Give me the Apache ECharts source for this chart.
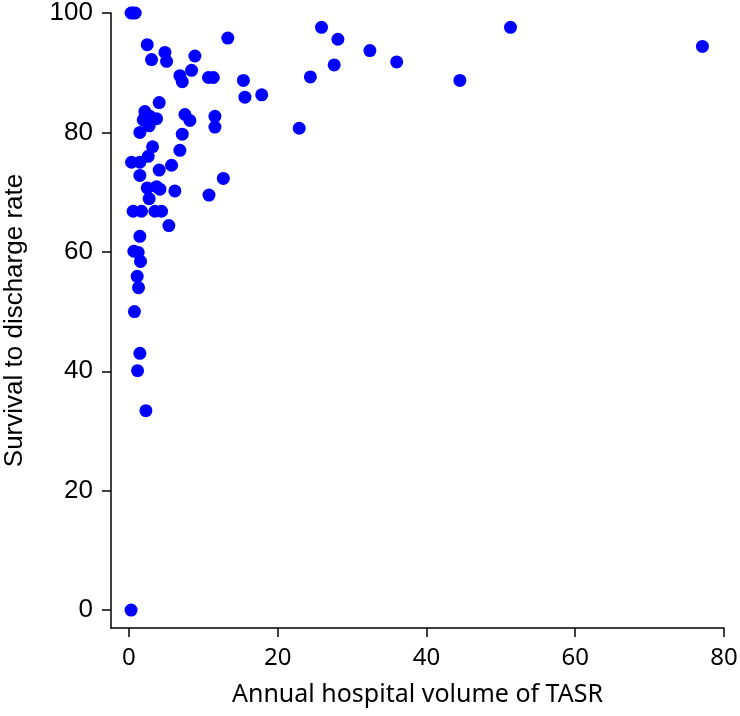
<!DOCTYPE html>
<html>
<head>
<meta charset="utf-8">
<script src="https://cdn.jsdelivr.net/npm/echarts@6/dist/echarts.min.js"></script>
<style>html,body{margin:0;padding:0;background:#fff}#c{width:740px;height:716px}</style>
</head>
<body>
<div id="c"></div>
<script>
// Annual hospital volume of TASR (x) and survival to discharge rate (y)
const volume = [0.3,0.55,0.85,0.3,
  2.47,13.3,4.85,5.07,3.05,8.88,8.43,6.86,7.18,10.7,11.35,15.4,15.6,4.08,11.57,11.57,
  7.54,8.21,2.15,1.93,2.83,3.72,1.48,2.73,7.18,3.19,6.86,0.36,1.48,2.6,4.08,5.74,1.48,
  12.7,2.47,3.72,4.17,6.19,10.77,2.73,0.58,1.7,3.5,4.4,5.38,1.48,0.67,1.25,1.57,1.12,
  1.3,0.75,1.48,1.17,2.29,
  25.9,28.1,32.4,36.0,27.6,17.86,24.4,22.9,51.3,77.1,44.5];
const survival = [100,100,100,0,
  94.7,95.8,93.4,91.9,92.2,92.8,90.4,89.5,88.5,89.2,89.2,88.7,85.9,85.0,82.7,80.9,
  83.0,82.0,83.5,82.1,82.7,82.3,80.0,81.1,79.7,77.6,77.0,75.0,75.0,76.0,73.7,74.5,72.8,
  72.3,70.7,70.9,70.5,70.2,69.5,68.9,66.8,66.8,66.8,66.8,64.4,62.6,60.1,59.9,58.4,55.9,
  54.0,50.0,43.0,40.1,33.4,
  97.6,95.6,93.7,91.8,91.3,86.3,89.3,80.7,97.6,94.4,88.7];
const xTicks = [0,20,40,60,80];
const yTicks = [0,20,40,60,80,100];

const points = volume.map((v,i)=>[v, survival[i]]);
const chart = echarts.init(document.getElementById('c'), null, {renderer:'canvas'});
chart.setOption({
  animation:false,
  backgroundColor:'#fff',
  grid:{left:111,right:16,top:13,bottom:88,containLabel:false,outerBoundsMode:'none'},
  xAxis:{
    type:'value', min:-2.4, max:80,
    name:'Annual hospital volume of TASR', nameLocation:'middle', nameGap:54,
    nameTextStyle:{color:'#000',fontSize:25,fontFamily:'Noto Sans'},
    splitLine:{show:false},
    axisLine:{show:true,onZero:false,lineStyle:{color:'#000',width:1.5}},
    axisTick:{show:true,length:9,customValues:xTicks,lineStyle:{color:'#000',width:1.5}},
    axisLabel:{customValues:xTicks,margin:18,color:'#000',fontSize:24,fontFamily:'Noto Sans'}
  },
  yAxis:{
    type:'value', min:-3, max:100,
    name:'Survival to discharge rate', nameLocation:'middle', nameGap:83, nameRotate:90,
    nameTextStyle:{color:'#000',fontSize:26,fontFamily:'Liberation Sans'},
    splitLine:{show:false},
    axisLine:{show:true,onZero:false,lineStyle:{color:'#000',width:1.5}},
    axisTick:{show:true,length:9,customValues:yTicks,lineStyle:{color:'#000',width:1.5}},
    axisLabel:{customValues:yTicks,margin:18,color:'#000',fontSize:26,fontFamily:'Liberation Sans'}
  },
  series:[{
    type:'scatter', data:points, symbol:'circle', symbolSize:13,
    itemStyle:{color:'#0000ff',opacity:1}
  }]
});
</script>
</body>
</html>
